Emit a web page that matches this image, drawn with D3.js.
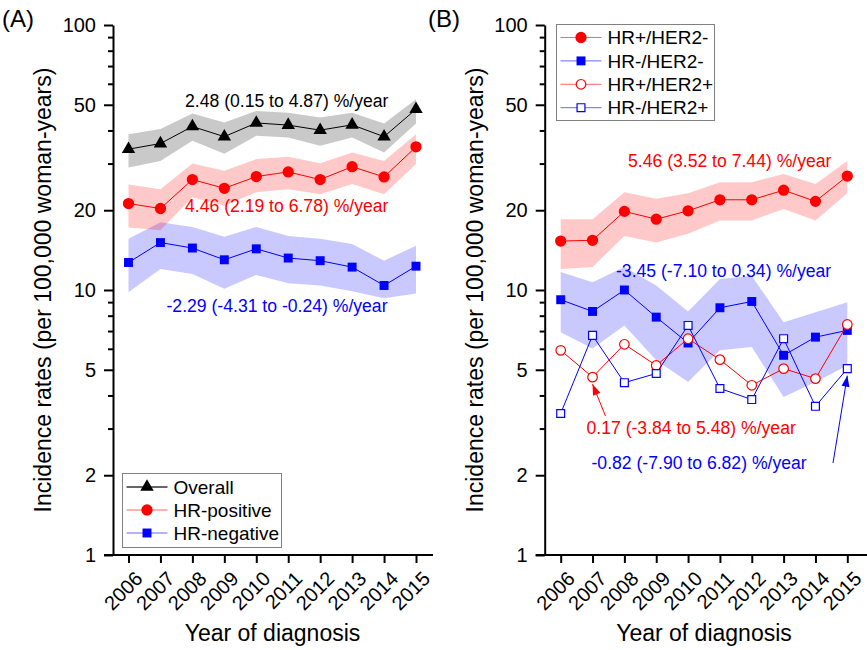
<!DOCTYPE html>
<html>
<head>
<meta charset="utf-8">
<script src="https://cdn.jsdelivr.net/npm/d3@7.9.0/dist/d3.min.js"></script>
<style>
  body { margin: 0; background: #fff; }
  svg { font-family: "Liberation Sans", Arial, sans-serif; }
</style>
</head>
<body>
<svg id="chart" width="867" height="650"></svg>
<script>
// data
const years = [2006, 2007, 2008, 2009, 2010, 2011, 2012, 2013, 2014, 2015];

// panel A
const overall   = [34.0, 35.7, 41.4, 37.9, 42.7, 41.9, 40.1, 42.0, 37.9, 48.1];
const overallLo = [29.0, 30.7, 36.6, 32.7, 38.2, 37.6, 35.0, 37.6, 33.0, 42.5];
const overallHi = [38.7, 40.5, 46.3, 42.9, 47.4, 46.7, 44.8, 46.7, 42.5, 52.5];
const hrPos   = [21.2, 20.3, 26.1, 24.2, 26.8, 27.9, 26.1, 29.2, 26.7, 34.7];
const hrPosLo = [17.2, 16.8, 22.4, 20.8, 23.4, 24.0, 23.0, 25.1, 23.0, 29.9];
const hrPosHi = [25.0, 24.0, 30.0, 28.2, 31.2, 31.8, 30.1, 33.0, 30.7, 38.7];
const hrNeg   = [12.7, 15.1, 14.4, 13.0, 14.3, 13.2, 12.9, 12.2, 10.4, 12.3];
const hrNegLo = [9.8, 12.0, 11.5, 10.1, 11.4, 10.6, 10.4, 9.9, 9.3, 9.7];
const hrNegHi = [15.6, 18.0, 17.3, 15.9, 17.3, 16.0, 15.6, 14.9, 12.9, 14.7];

// panel B
const posNeg   = [15.3, 15.4, 19.8, 18.5, 19.9, 21.9, 21.9, 23.8, 21.6, 26.9];
const posNegLo = [12.0, 12.2, 16.0, 15.1, 16.3, 18.3, 18.3, 20.2, 18.3, 23.2];
const posNegHi = [18.5, 18.5, 23.4, 22.1, 23.2, 25.5, 25.5, 27.4, 25.1, 30.7];
const negNeg   = [9.19, 8.30, 10.0, 7.90, 6.31, 8.57, 9.05, 5.67, 6.64, 7.04];
const negNegLo = [6.93, 6.01, 7.35, 5.43, 4.50, 5.92, 6.09, 3.95, 4.50, 5.19];
const negNegHi = [11.7, 10.7, 12.2, 10.4, 8.30, 11.0, 11.3, 7.55, 8.25, 9.0];
const posPos = [5.92, 4.69, 6.24, 5.19, 6.55, 5.46, 4.37, 5.05, 4.63, 7.41];
const negPos = [3.42, 6.74, 4.47, 4.84, 7.35, 4.25, 3.86, 6.55, 3.64, 5.05];

const yMajor = [1, 2, 5, 10, 20, 50, 100];
const yMinor = [3, 4, 6, 7, 8, 9, 30, 40, 60, 70, 80, 90];

const legendA = ["Overall", "HR-positive", "HR-negative"];
const legendB = ["HR+/HER2-", "HR-/HER2-", "HR+/HER2+", "HR-/HER2+"];

const RED = "#ff0000", BLUE = "#0000ff", BLACK = "#000000";

const svg = d3.select("#chart");
const y = d3.scaleLog().domain([1, 100]).range([555, 25]);

function makePanel(axisX, x0, x1, xEnd, titleX, tag, tagX) {
  const x = d3.scaleLinear().domain([2006, 2015]).range([x0, x1]);
  const g = svg.append("g");

  // y axis: minor then major ticks
  g.append("g").attr("transform", `translate(${axisX},0)`)
    .call(d3.axisLeft(y).tickValues(yMinor).tickSize(5).tickFormat(""))
    .call(a => a.select(".domain").remove());
  g.append("g").attr("transform", `translate(${axisX},0)`)
    .call(d3.axisLeft(y).tickValues(yMajor).tickSize(9).tickSizeOuter(0)
      .tickPadding(8).tickFormat(d3.format("d")))
    .call(a => a.selectAll("text").attr("font-size", 20).attr("fill", "#000")
      .attr("font-family", "Liberation Sans, Arial, sans-serif"));

  // x axis
  g.append("g").attr("transform", "translate(0,555)")
    .call(d3.axisBottom(x).tickValues(years).tickSize(8).tickFormat(d3.format("d")))
    .call(a => a.select(".domain").remove())
    .call(a => a.selectAll("text")
      .attr("font-size", 20).attr("fill", "#000")
      .attr("font-family", "Liberation Sans, Arial, sans-serif")
      .attr("text-anchor", "end")
      .attr("x", 0).attr("y", 0).attr("dy", "0.35em")
      .attr("transform", "translate(10,20) rotate(-45)"));
  g.append("line")
    .attr("x1", axisX - 9).attr("x2", xEnd)
    .attr("y1", y(1)).attr("y2", y(1))
    .attr("stroke", "#000").attr("stroke-width", 2);

  g.selectAll(".tick line").attr("stroke-width", 2);
  g.selectAll(".domain").attr("stroke-width", 2);

  // titles
  g.append("text")
    .attr("x", titleX).attr("y", 641)
    .attr("text-anchor", "middle").attr("font-size", 23)
    .text("Year of diagnosis");
  g.append("text")
    .attr("transform", `translate(${axisX - 70},290) rotate(-90)`)
    .attr("text-anchor", "middle").attr("font-size", 23)
    .attr("dy", "0.35em")
    .text("Incidence rates (per 100,000 woman-years)");
  g.append("text")
    .attr("x", tagX).attr("y", 27).attr("font-size", 24)
    .text(tag);

  return { g, x };
}

function band(p, lo, hi, color) {
  const area = d3.area()
    .x((d, i) => p.x(years[i]))
    .y0((d, i) => y(lo[i]))
    .y1((d, i) => y(hi[i]));
  p.g.append("path").datum(lo)
    .attr("d", area)
    .attr("fill", color).attr("fill-opacity", 0.21);
}

function series(p, vals, color, shape, open) {
  const line = d3.line()
    .x((d, i) => p.x(years[i]))
    .y(d => y(d));
  p.g.append("path").datum(vals)
    .attr("d", line).attr("fill", "none")
    .attr("stroke", color).attr("stroke-width", 1);
  drawMarkers(p.g, vals.map((v, i) => [p.x(years[i]), y(v)]), color, shape, open);
}

function drawMarkers(g, pts, color, shape, open) {
  const size = { triangle: 78, circle: open ? 72 : 100, square: open ? 62 : 80 }[shape];
  const type = { triangle: d3.symbolTriangle, circle: d3.symbolCircle, square: d3.symbolSquare }[shape];
  const sym = d3.symbol().type(type).size(size);
  g.selectAll(null).data(pts).join("path")
    .attr("transform", d => `translate(${d[0]},${d[1]})`)
    .attr("d", sym)
    .attr("fill", open ? "#fff" : color)
    .attr("stroke", color)
    .attr("stroke-width", open ? 1.2 : 0);
}

function legend(p, bx, by, bw, bh, labels, styles, rowY0, rowStep, fontSize) {
  const lg = p.g.append("g");
  lg.append("rect")
    .attr("x", bx).attr("y", by).attr("width", bw).attr("height", bh)
    .attr("fill", "#fff").attr("stroke", "#808080").attr("stroke-width", 1);
  labels.forEach((lab, i) => {
    const ly = rowY0 + i * rowStep;
    const st = styles[i];
    lg.append("line")
      .attr("x1", bx + 4).attr("x2", bx + 45)
      .attr("y1", ly).attr("y2", ly)
      .attr("stroke", st.color).attr("stroke-width", st.color === BLACK ? 1.5 : 1)
      .attr("stroke-opacity", st.color === BLACK ? 0.8 : 0.6);
    drawMarkers(lg, [[bx + 24.5, ly]], st.color, st.shape, st.open);
    lg.append("text")
      .attr("x", bx + 51).attr("y", ly).attr("dy", "0.35em")
      .attr("font-size", fontSize).text(lab);
  });
}

function note(p, tx, ty, color, str) {
  p.g.append("text").attr("x", tx).attr("y", ty)
    .attr("font-size", 17.6).attr("fill", color).text(str);
}

function arrow(p, x1, y1, x2, y2, color) {
  p.g.append("line")
    .attr("x1", x1).attr("y1", y1).attr("x2", x2).attr("y2", y2)
    .attr("stroke", color).attr("stroke-width", 1);
  const ang = Math.atan2(y2 - y1, x2 - x1);
  const L = 11, W = 4;
  const bx = x2 - L * Math.cos(ang), by = y2 - L * Math.sin(ang);
  const pts = [
    [x2, y2],
    [bx + W * Math.sin(ang), by - W * Math.cos(ang)],
    [bx - W * Math.sin(ang), by + W * Math.cos(ang)]
  ];
  p.g.append("path").attr("d", "M" + pts.join("L") + "Z").attr("fill", color);
}

// ---- panel A
const A = makePanel(113, 128.5, 416, 433, 272.5, "(A)", 2);
band(A, hrNegLo, hrNegHi, BLUE);
band(A, hrPosLo, hrPosHi, RED);
band(A, overallLo, overallHi, BLACK);
series(A, overall, BLACK, "triangle", false);
series(A, hrPos, RED, "circle", false);
series(A, hrNeg, BLUE, "square", false);
note(A, 185, 107, BLACK, "2.48 (0.15 to 4.87) %/year");
note(A, 185, 212, RED, "4.46 (2.19 to 6.78) %/year");
note(A, 166.5, 312, BLUE, "-2.29 (-4.31 to -0.24) %/year");
legend(A, 122.5, 473.5, 159, 74, legendA,
  [{ color: BLACK, shape: "triangle" }, { color: RED, shape: "circle" }, { color: BLUE, shape: "square" }],
  487, 23, 19);

// ---- panel B
const B = makePanel(544.7, 560.7, 847.3, 867, 704, "(B)", 428);
band(B, negNegLo, negNegHi, BLUE);
band(B, posNegLo, posNegHi, RED);
series(B, posNeg, RED, "circle", false);
series(B, negNeg, BLUE, "square", false);
series(B, posPos, RED, "circle", true);
series(B, negPos, BLUE, "square", true);
note(B, 628, 167, RED, "5.46 (3.52 to 7.44) %/year");
note(B, 616, 277, BLUE, "-3.45 (-7.10 to 0.34) %/year");
note(B, 586.5, 433.5, RED, "0.17 (-3.84 to 5.48) %/year");
note(B, 591.5, 468.5, BLUE, "-0.82 (-7.90 to 6.82) %/year");
arrow(B, 605.5, 416, B.x(2007), y(posPos[1]) + 7, RED);
arrow(B, 833, 463, B.x(2015), y(negPos[9]) + 7, BLUE);
legend(B, 556.5, 24.5, 158, 96, legendB,
  [{ color: RED, shape: "circle" }, { color: BLUE, shape: "square" },
   { color: RED, shape: "circle", open: true }, { color: BLUE, shape: "square", open: true }],
  37.5, 23.4, 19);
</script>
</body>
</html>
